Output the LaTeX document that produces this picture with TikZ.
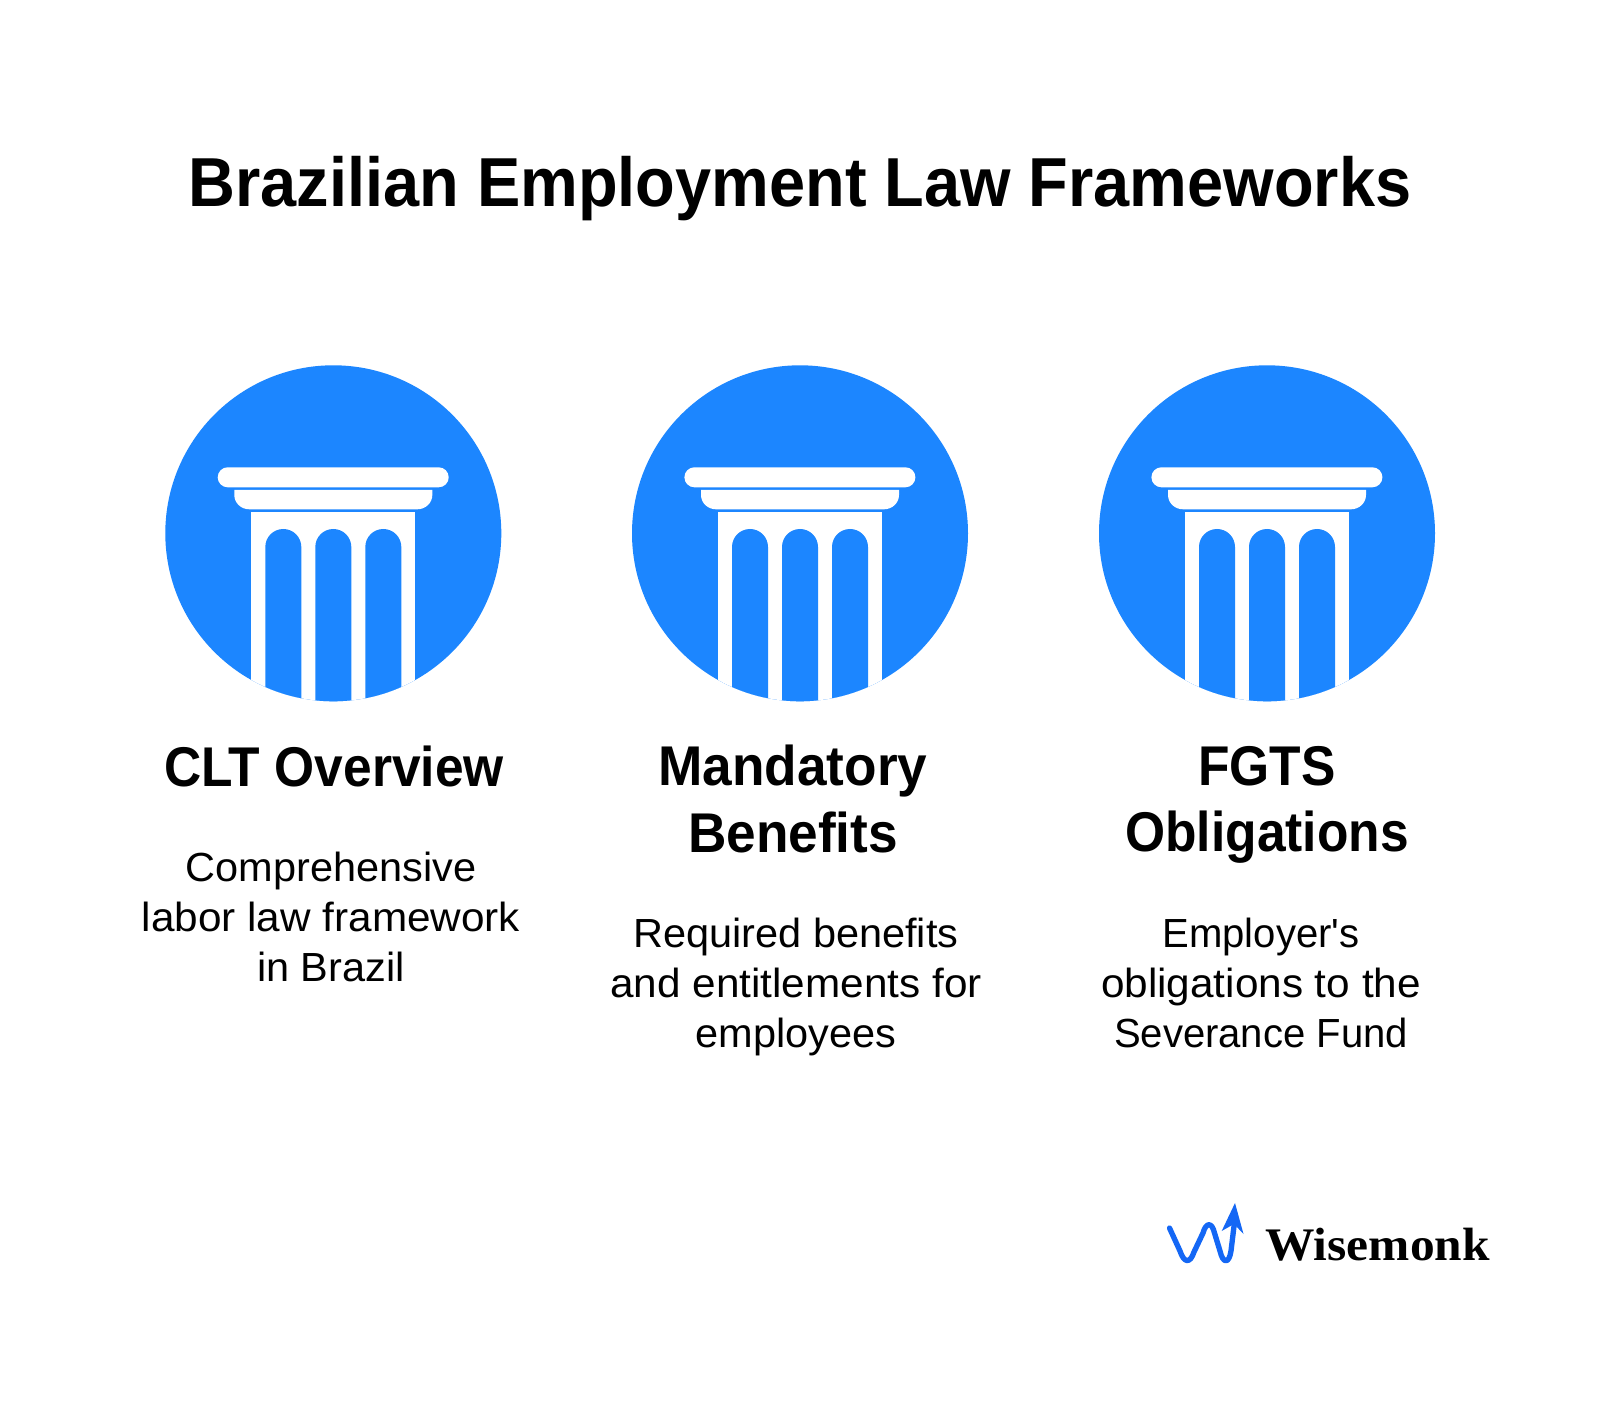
\documentclass[tikz,border=0pt]{standalone}
\usepackage{fontspec}
\setmainfont{Liberation Sans}
\newfontfamily\titlef[FakeStretch=0.936]{Liberation Sans}
\newfontfamily\headf[FakeStretch=0.95]{Liberation Sans}
\newfontfamily\headg[FakeStretch=0.92]{Liberation Sans}
\newfontfamily\bodyf[FakeStretch=1.02]{Liberation Sans}
\newfontfamily\bodyw[FakeStretch=1.04]{Liberation Sans}
\newfontfamily\bodyn[FakeStretch=0.985]{Liberation Sans}
\newfontfamily\logof[FakeStretch=1.06]{Liberation Serif}
\definecolor{pillarblue}{HTML}{1C86FF}
\definecolor{logoblue}{HTML}{1467F5}
\tikzset{
  titletext/.style={font=\titlef\bfseries\fontsize{52}{62}\selectfont,text=black,inner sep=0pt},
  headtext/.style={font=\headf\bfseries\fontsize{42}{50}\selectfont,text=black,inner sep=0pt,align=center},
  headnarrow/.style={font=\headg\bfseries\fontsize{42}{50}\selectfont,text=black,inner sep=0pt,align=center},
  bodytext/.style={font=\bodyf\fontsize{30.5}{37.5}\selectfont,text=black,inner sep=0pt,align=center},
  logotext/.style={font=\logof\bfseries\fontsize{35}{40}\selectfont,text=black,inner sep=0pt},
  disc/.style={fill=pillarblue},
  cut/.style={fill=white}
}
\newcommand{\pillar}[1]{%
  \begin{scope}[shift={(#1,0)}]
    \fill[disc] (0,533.3) circle[radius=168];
    \fill[cut,rounded corners=7.5pt] (-115.6,467.3) rectangle (115.4,487.3);
    \fill[cut] (-99,490) -- (99,490) -- (99,495) to[out=-90,in=0] (84,509.3) -- (-84,509.3) to[out=180,in=-90] (-99,495) -- cycle;
    \begin{scope}
      \clip (0,533.3) circle[radius=168];
      \fill[cut] (-82,512.3) rectangle (82,720);
      \foreach \c in {-50,0,50}{
        \fill[disc] (\c-18,720) -- (\c-18,547) to[out=90,in=180] (\c,529) to[out=0,in=90] (\c+18,547) -- (\c+18,720) -- cycle;
      }
    \end{scope}
  \end{scope}}
\begin{document}
\begin{tikzpicture}[x=0.75pt,y=-0.75pt]
\useasboundingbox[fill=white] (0,0) rectangle (1600,1408);
\pillar{333.3}
\pillar{800}
\pillar{1267}
\node[titletext] (title) at (800,189) {Brazilian Employment Law Frameworks};
\node[headnarrow] (h1) at (334,766) {CLT Overview};
\node[headtext] (h2) at (793,799) {Mandatory\\Benefits};
\node[headnarrow] (h3) at (1267,805) {FGTS\\Obligations};
\node[bodytext] (b1) at (331,917) {Comprehensive\\{\bodyw labor law framework}\\in Brazil};
\node[bodytext] (b2) at (796,987) {Required benefits\\{\bodyw and entitlements for}\\employees};
\node[bodytext] (b3) at (1261,983) {{\bodyn Employer's}\\{\bodyw obligations to the}\\{\bodyn Severance Fund}};
\draw[logoblue,line width=4pt,line cap=round,line join=round] (1169.5,1228) -- (1180,1251) .. controls (1184,1263) and (1190,1264) .. (1194,1252) -- (1203,1233) .. controls (1206,1222) and (1212,1222) .. (1214.5,1233) -- (1220,1251) .. controls (1223,1264) and (1229,1264) .. (1231,1251) -- (1234.5,1222);
\fill[logoblue] (1235,1203) -- (1243.5,1234) -- (1234,1224) -- (1221.7,1231) -- cycle;
\node[logotext,anchor=west] (logo) at (1265,1245) {Wisemonk};
\end{tikzpicture}
\end{document}
